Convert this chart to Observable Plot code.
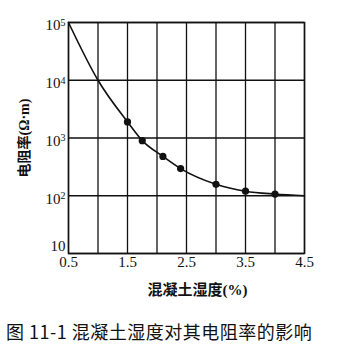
<!DOCTYPE html>
<html>
<head>
<meta charset="utf-8">
<script src="https://cdn.jsdelivr.net/npm/d3@7"></script>
<script src="https://cdn.jsdelivr.net/npm/@observablehq/plot@0.6"></script>
<style>
  html, body { margin: 0; padding: 0; background: #fff; }
  #wrap { position: relative; width: 350px; height: 350px; overflow: hidden; }
  #caption { position: absolute; left: 6px; top: 318px; font-family: "Noto Sans CJK SC", sans-serif; font-size: 18px; color: #111; white-space: nowrap; letter-spacing: 0.5px; }
</style>
</head>
<body>
<div id="wrap">
  <div id="chart"></div>
  <div id="caption"></div>
</div>
<script>
// Curve through the chart (moisture %, resistivity Ω·m)
const curveX = [0.5, 1.0, 1.5, 1.75, 2.1, 2.4, 3.0, 3.5, 4.0, 4.5];
const curveY = [100000, 10000, 1900, 900, 480, 295, 158, 120, 107, 100];
// Measured points
const dotX = [1.5, 1.75, 2.1, 2.4, 3.0, 3.5, 4.0];
const dotY = [1900, 900, 480, 295, 158, 120, 107];
// Ticks
const xGrid = [0.5, 1.0, 1.5, 2.0, 2.5, 3.0, 3.5, 4.0, 4.5];
const xTickLabels = [0.5, 1.5, 2.5, 3.5, 4.5];
const yTicks = [10, 100, 1000, 10000, 100000];
const yTickExp = ["", "2", "3", "4", "5"];
const xLabel = "混凝土湿度(%)";
const yLabel = "电阻率(Ω·m)";
const captionText = "图 11-1  混凝土湿度对其电阻率的影响";

const curve = curveX.map((x, i) => ({x, y: curveY[i]}));
const dots = dotX.map((x, i) => ({x, y: dotY[i]}));
const serif = "'Liberation Serif', 'Times New Roman', serif";
const labelFont = "'Liberation Serif', 'Noto Sans CJK SC', serif";

const chart = Plot.plot({
  width: 350,
  height: 300,
  marginTop: 22,
  marginBottom: 47,
  marginLeft: 68,
  marginRight: 46,
  style: {background: "#fff", color: "#111"},
  x: {domain: [0.5, 4.5]},
  y: {type: "log", domain: [10, 100000]},
  marks: [
    Plot.gridX(xGrid, {stroke: "#111", strokeOpacity: 1, strokeWidth: 1.3}),
    Plot.gridY(yTicks, {stroke: "#111", strokeOpacity: 1, strokeWidth: 1.3}),
    Plot.frame({stroke: "#111", strokeWidth: 1.5}),
    Plot.axisX(xTickLabels, {tickSize: 0, tickPadding: 3, fontSize: 15, fontFamily: serif, tickFormat: d => d.toFixed(1), label: null}),
    Plot.axisY(yTicks, {tickSize: 0, tickPadding: 3, fontSize: 15, fontFamily: serif, dy: 3,
      tickFormat: d => { const i = yTicks.indexOf(d); return yTickExp[i] ? "10^" + yTickExp[i] : "10"; }, label: null}),
    Plot.line(curve, {x: "x", y: "y", curve: "monotone-x", stroke: "#111", strokeWidth: 1.6}),
    Plot.dot(dots, {x: "x", y: "y", r: 3.6, fill: "#111", stroke: "none"}),
    Plot.text([xLabel], {text: d => d, frameAnchor: "bottom", textAnchor: "middle", lineAnchor: "middle", dx: 11, dy: 37, fontSize: 15, fontWeight: "bold", fontFamily: labelFont, fill: "#111"}),
    Plot.text([yLabel], {text: d => d, frameAnchor: "left", textAnchor: "middle", lineAnchor: "middle", dx: -44, rotate: -90, fontSize: 14, fontWeight: "bold", fontFamily: labelFont, fill: "#111"})
  ]
});
document.getElementById("chart").appendChild(chart);
document.getElementById("caption").textContent = captionText;

// turn "10^n" tick labels into 10 with a superscript
d3.select(chart).selectAll('g[aria-label="y-axis tick label"] text').each(function() {
  const t = d3.select(this);
  const s = t.text();
  if (s.includes("^")) {
    const [base, exp] = s.split("^");
    t.text(base);
    t.append("tspan").attr("dy", "-0.45em").attr("font-size", "10px").text(exp);
  } else {
    t.attr("dy", "-0.7em");
  }
});
</script>
</body>
</html>
